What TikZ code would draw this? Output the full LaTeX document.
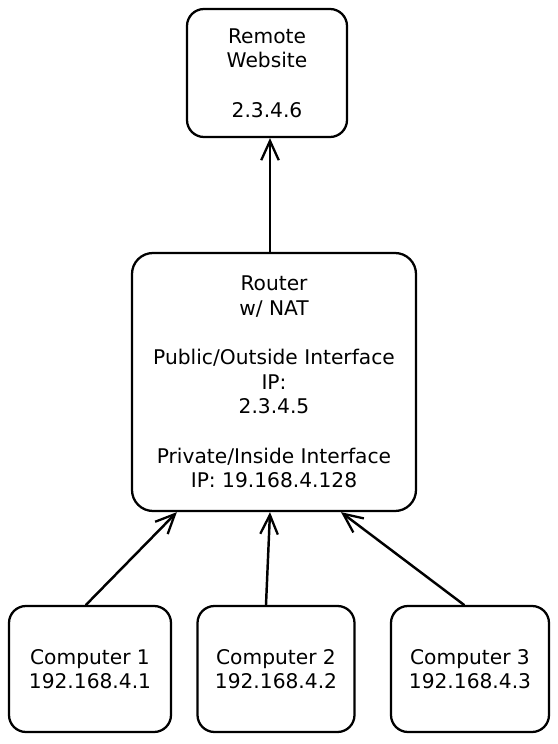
\documentclass[tikz,border=0pt]{standalone}
\usepackage{fontspec}
\setmainfont{DejaVu Sans}
\usetikzlibrary{arrows.meta}
\tikzset{
  every picture/.style={line join=round, line cap=round, >=Stealth},
  box/.style={draw, line width=1.3pt, rounded corners=0.34cm, align=center, inner sep=0pt, font=\fontsize{11.5}{14}\selectfont},
  link/.style={line width=1.4pt, -{Straight Barb[length=11pt,width=10pt,line width=1.3pt]}},
}

\begin{document}
\begin{tikzpicture}
\fill[white](0,0) rectangle (11.160,14.880);
\useasboundingbox (0,0) rectangle (11.160,14.880);
\node[box,minimum width=3.200cm,minimum height=2.560cm] (web) at (5.340,13.420) {Remote\\Website\\[14pt]2.3.4.6};
\node[box,minimum width=5.680cm,minimum height=5.160cm,rounded corners=0.42cm] (router) at (5.480,7.240) {Router\\w/ NAT\\[14pt]Public/Outside Interface\\IP:\\2.3.4.5\\[14pt]Private/Inside Interface\\IP: 19.168.4.128};
\node[box,minimum width=3.240cm,minimum height=2.520cm] (pc1) at (1.800,1.500) {Computer 1\\192.168.4.1};
\node[box,minimum width=3.140cm,minimum height=2.520cm] (pc2) at (5.520,1.500) {Computer 2\\192.168.4.2};
\node[box,minimum width=3.160cm,minimum height=2.520cm] (pc3) at (9.400,1.500) {Computer 3\\192.168.4.3};
\draw[link]([xshift=-0.080cm]router.north)--([xshift=0.060cm]web.south);
\draw[link]([xshift=-0.080cm]pc1.north)--([xshift=0.920cm]router.south west);
\draw[link]([xshift=-0.200cm]pc2.north)--([xshift=-0.080cm]router.south);
\draw[link]([xshift=-0.120cm]pc3.north)--([xshift=1.340cm]router.south);
\end{tikzpicture}
\end{document}
